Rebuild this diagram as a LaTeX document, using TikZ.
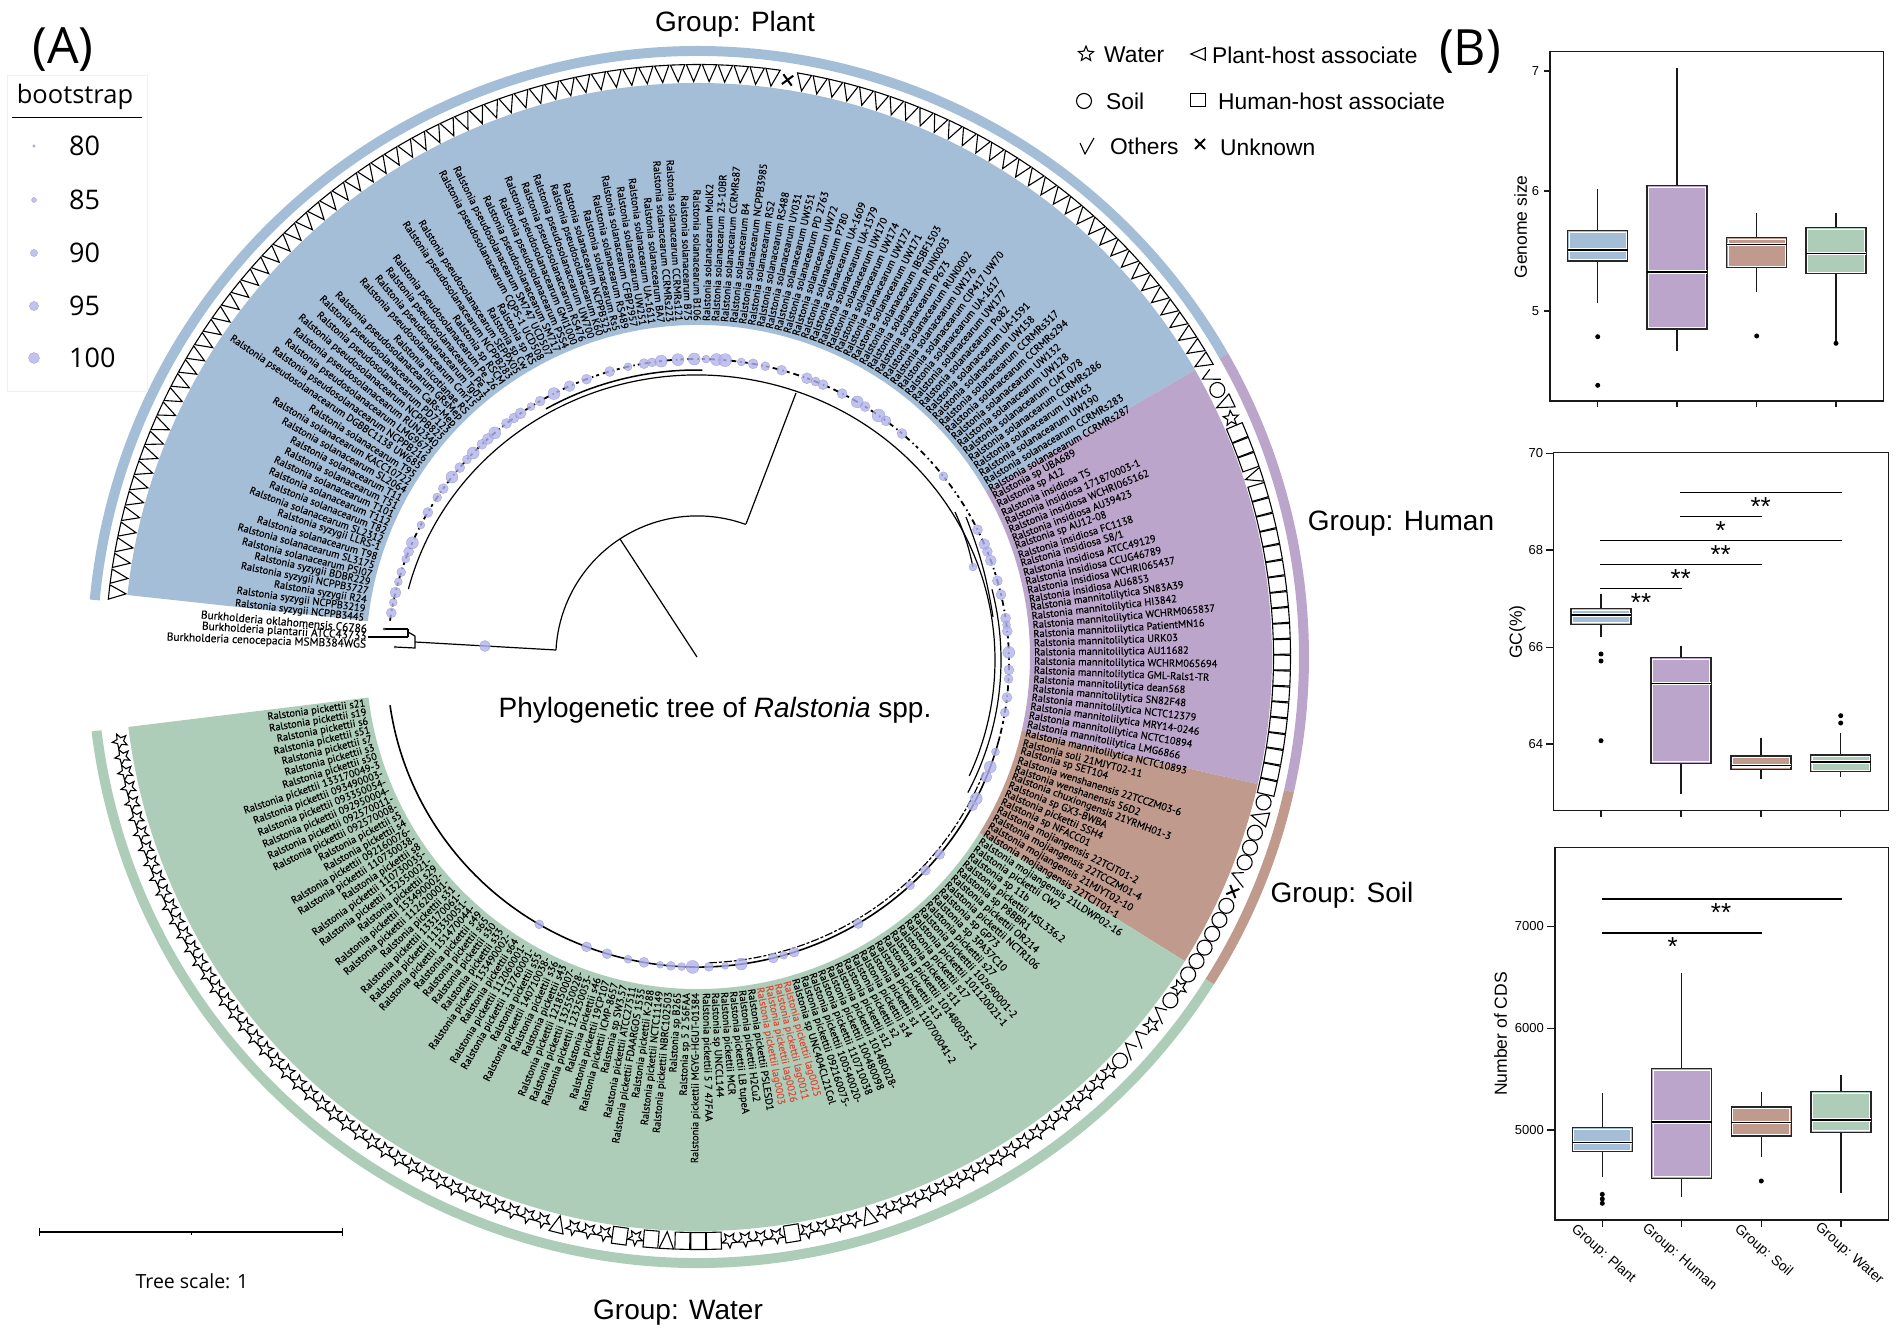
\documentclass[tikz,border=0pt]{standalone}
\usepackage{fontspec}
\newfontfamily\arialfont{Liberation Sans}
\newfontfamily\leaffont[FakeBold=0.25]{PT Sans}
\newfontfamily\legfont{Open Sans}
\usepackage{tikz}
\usetikzlibrary{calc,positioning}
\definecolor{plantcol}{HTML}{A5BED8}
\definecolor{humancol}{HTML}{BBA5CB}
\definecolor{soilcol}{HTML}{C09A8D}
\definecolor{watercol}{HTML}{AECDB9}
\definecolor{leafred}{HTML}{DB4B3C}
\definecolor{dotcol}{HTML}{B3B3EE}
\def\Rps{Ralstonia pseudosolanacearum }
\def\Rsol{Ralstonia solanacearum }
\def\Rsy{Ralstonia syzygii }
\def\Rsp{Ralstonia sp }
\def\Rins{Ralstonia insidiosa }
\def\Rman{Ralstonia mannitolilytica }
\def\Rmo{Ralstonia mojiangensis }
\def\Rpk{Ralstonia pickettii }
\def\Rlag{\color{leafred}Ralstonia pickettii }
\newcommand{\ringsector}[5]{%
  \fill[#1] (#2:#4) arc[start angle=#2,end angle=#3,radius=#4]
    -- (#3:#5) arc[start angle=#3,end angle=#2,radius=#5] -- cycle;}
\newcommand{\boxgroup}[7]{%
  \draw[whisker] (#1,-#2) -- (#1,-#3) (#1,-#5) -- (#1,-#6);
  \draw[boxline,fill=#7] ({#1-30},-#3) rectangle ({#1+30},-#5);
  \draw[white,line width=.7] ({#1-28.5},{-#3-1.6}) rectangle ({#1+28.5},{-#5+1.6});
  \draw[white,line width=3.4] ({#1-29.5},-#4) -- ({#1+29.5},-#4);
  \draw[black,line width=1.5] ({#1-30},-#4) -- ({#1+30},-#4);}
\tikzset{
  x=1pt,y=1pt,
  leaf/.style={font=\leaffont\fontsize{10.4}{10.4}\selectfont,inner sep=0pt},
  burk/.style={font=\leaffont\fontsize{11.4}{11.4}\selectfont,inner sep=0pt,anchor=east},
  grouplabel/.style={font=\arialfont\fontsize{28}{28}\selectfont,inner sep=0pt},
  legtext/.style={font=\arialfont\fontsize{22.8}{23}\selectfont,inner sep=0pt,anchor=west},
  boottext/.style={font=\legfont\fontsize{27}{27}\selectfont,inner sep=0pt,anchor=west},
  paneltag/.style={font=\legfont\fontsize{50}{50}\selectfont,inner sep=0pt},
  ticklabel/.style={font=\arialfont\fontsize{13}{13}\selectfont,inner sep=0pt,anchor=east},
  axistitle/.style={font=\arialfont\fontsize{17.5}{17.5}\selectfont,inner sep=0pt,rotate=90},
  grouptick/.style={font=\arialfont\fontsize{14}{14}\selectfont,inner sep=0pt,rotate=-41},
  sigstar/.style={font=\arialfont\fontsize{26}{26}\selectfont,inner sep=0pt},
  symline/.style={line width=1.1,black},
  treeline/.style={line width=1.2,black},
  whisker/.style={line width=1.2,black!90},
  boxline/.style={line width=1.2,black!85},
  axisline/.style={line width=1.5,black!90},
  sigbar/.style={line width=1.5,black},
  bootdot/.style={fill=dotcol,draw=dotcol!80!black,line width=.3,opacity=.8},
  pics/symT/.style={code={\draw[symline] (8.5,-7.2) -- (8.5,7.2) -- (-8.5,0) -- cycle;}},
  pics/symS/.style={code={\draw[symline] (-8.5,-7.4) rectangle (8.5,7.4);}},
  pics/symC/.style={code={\draw[symline] (0,0) circle (7.5);}},
  pics/symA/.style={code={\draw[symline] (0:7.9) -- (36:3.5) -- (72:7.9) -- (108:3.5) -- (144:7.9)
      -- (180:3.5) -- (216:7.9) -- (252:3.5) -- (288:7.9) -- (324:3.5) -- cycle;}},
  pics/symK/.style={code={\draw[symline] (3,6) -- (-8,1) -- (8,-8);}},
  pics/symX/.style={code={\draw[line width=2,black] (-5,-5) -- (5,5) (-5,5) -- (5,-5);}},
}
\begin{document}
\begin{tikzpicture}
  \useasboundingbox (0,0) rectangle (1901,-1340);
  \begin{scope}[shift={(698,-657)}]
    % sectors and outer ring
    \ringsector{plantcol}{173.8}{30}{574}{332}
    \ringsector{humancol}{30}{-12.8}{574}{332}
    \ringsector{soilcol}{-12.8}{-32}{574}{332}
    \ringsector{watercol}{-32}{-173}{574}{332}
    \ringsector{plantcol}{174.6}{29.8}{611}{601}
    \ringsector{humancol}{29.8}{-12.8}{611}{601}
    \ringsector{soilcol}{-12.8}{-32.4}{611}{601}
    \ringsector{watercol}{-32.4}{-173}{611}{601}
    % symbols
    \foreach \from/\to/\sym in {0/59/T,60/60/X,61/93/T,94/94/K,95/95/C,96/96/T,97/97/A,98/100/S,
        101/101/T,102/121/S,122/122/C,123/123/T,124/126/C,127/127/K,128/128/X,129/134/C,
        135/135/A,136/136/C,137/137/K,138/138/A,139/140/K,141/141/C,142/159/A,160/160/T,
        161/164/A,165/165/S,166/169/A,170/172/S,173/173/T,174/174/S,175/175/A,176/176/S,
        177/179/A,180/180/T,181/224/A}{
      \foreach \n in {\from,...,\to}{
        \pgfmathsetmacro\a{173.7-1.542*\n}
        \pic[rotate=\a] at (\a:584) {sym\sym};
      }
    }
    % leaf labels
    \foreach \leaftxt [count=\n from 0] in {
      \Rsy NCPPB3445,\Rsy NCPPB3219,\Rsy R24,\Rsy NCPPB3727,\Rsy BDBR229,\Rsol PSI07,\Rsol SL3175,
      \Rsol T98,\Rsy LLRS-1,\Rsol SL2312,\Rsol T82,\Rsol T112,\Rsol T101,\Rsol T51,\Rsol T11,
      \Rsol SL2064,\Rsol KACC10722,\Rsol T95,\Rps DGBBC1138 UW685,\Rps NCPPB216,\Rps LMG9673,
      \Rps RUN2340,\Rps NCPPB825,\Rps PD7123,\Rps CaRs-Mep,\Rps GRsMep,Ralstonia nicotianae RS,
      \Rps Cmr15,\Rps Tg03,\Rps Pe\_1,\Rps Pe\_26,\Rsp RSCM,\Rps NCPPB283,\Rps SEPPX05,\Rsp Cw,\Rsp RS,
      \Rps CQPS-1 UCD508,\Rps SM747 UCD507,\Rps SM717,\Rps PSS4,\Rps GMI1000,\Rps RS476,\Rps UW700,
      \Rps K60,\Rsol NCPPB325,\Rsol Rs5,\Rsol RS489,\Rsol CFBP2957,\Rsol UW251,\Rsol UA-1611,
      \Rsol BA7,\Rsol CCRMRs223,\Rsol CCRMRs121,\Rsol B75,\Rsol B106,\Rsol MolK2,\Rsol 23-10BR,
      \Rsol CCRMRs87,\Rsol B4,\Rsol NCPPB3985,\Rsol RS2,\Rsol RS488,\Rsol UY031,\Rsol UW551,
      \Rsol PD 2763,\Rsol UW72,\Rsol P780,\Rsol UA-1609,\Rsol UA-1579,\Rsol UW170,\Rsol UW174,
      \Rsol UW172,\Rsol UW171,\Rsol IBSBF1503,\Rsol RUN0003,\Rsol P673,\Rsol RUN0002,\Rsol UW176,
      \Rsol CIP417 UW70,\Rsol UA-1617,\Rsol UW177,\Rsol Po82,\Rsol UA-1591,\Rsol UW158,
      \Rsol CCRMRs317,\Rsol CCRMRs294,\Rsol UW132,\Rsol UW128,\Rsol CIAT 078,\Rsol CCRMRs286,
      \Rsol UW163,\Rsol UW190,\Rsol CCRMRs283,\Rsol CCRMRs287,\Rsp UBA689,
      \Rsp A12,\Rins TS,\Rins 171870003-1,\Rins WCHRI065162,\Rins AU39423,\Rsp AU12-08,\Rins FC1138,
      \Rins S8/1,\Rins ATCC49129,\Rins CCUG46789,\Rins WCHRI065437,\Rins AU6853,\Rman SN83A39,
      \Rman HI3842,\Rman WCHRM065837,\Rman PatientMN16,\Rman URK03,\Rman AU11682,\Rman WCHRM065694,
      \Rman GML-Rals1-TR,\Rman dean568,\Rman SN82F48,\Rman NCTC12379,\Rman MRY14-0246,
      \Rman NCTC10894,\Rman LMG6866,\Rman NCTC10893,
      Ralstonia soli 21MJYT02-11,\Rsp SET104,Ralstonia wenshanensis 22TCCZM03-6,
      Ralstonia wenshanensis 56D2,Ralstonia chuxiongensis 21YRMH01-3,\Rsp GX3-BWBA,\Rpk SSH4,
      \Rsp NFACC01,\Rmo 22TCJT01-2,\Rmo 22TCCZM01-4,\Rmo 21MJYT02-10,\Rmo 22TCJT01-1,\Rmo 21LDWP02-16,
      \Rpk CW2,\Rsp 11b,\Rpk MSL336.2,\Rsp P8BBR1,\Rpk OR214,\Rpk NCTR106,\Rsp GP73,\Rsp 3PA37C10,
      \Rpk s27,\Rpk 102690001-2,\Rpk 101120021-1,\Rpk s17,\Rpk s11,\Rpk 101480035-1,\Rpk s13,
      \Rpk 110700041-2,\Rpk s1,\Rpk s14,\Rpk s2,\Rpk s12,\Rpk 101480028-,\Rpk 100480098,
      \Rpk 110710038,\Rpk 100540020-,\Rpk 092160075-,\Rsp UNC404CL21Col,\Rlag lag0025,\Rlag lag0011,
      \Rlag lag0026,\Rlag lag0003,\Rpk PSLESD1,\Rpk H2Cu2,\Rpk LB tupeA,\Rpk MCR,\Rsp UNCCL144,
      \Rpk 5 7 47FAA,\Rpk MGYG-HGUT-01384,\Rsp 5 2 56FAA,\Rsp B265,\Rpk NBRC102503,\Rpk NCTC11149,
      \Rpk K-288,\Rpk FDAARGOS 1535,\Rpk ATCC27511,\Rsp SW3.57,\Rpk ICMP-8657,\Rpk 19CP107,\Rpk s46,
      \Rpk 123250053-,\Rpk 132550028-,\Rpk 121850007-,\Rpk s43,\Rpk s36,\Rpk 140710038-,\Rpk s55,
      \Rpk 112760001-,\Rpk 112060001-,\Rpk s64,\Rpk 153490002-,\Rpk s33,\Rpk s30,\Rpk s65,\Rpk s49,
      \Rpk 151470044-,\Rpk 113330051-,\Rpk 133170061-,\Rpk s31,\Rpk 112620001-,\Rpk 153490002-,
      \Rpk s29,\Rpk 132550021-,\Rpk 110730035-,\Rpk s8,\Rpk 110730038-,\Rpk 092160076-,\Rpk s4,
      \Rpk s5,\Rpk 092570008-,\Rpk 092570011-,\Rpk 092950004-,\Rpk 093350054-,\Rpk 093490003-,
      \Rpk 133170049-3,\Rpk s50,\Rpk s3,\Rpk s7,\Rpk s51,\Rpk s6,\Rpk s19,\Rpk s21}{
      \pgfmathsetmacro\a{173.4-1.542*\n}
      \pgfmathsetmacro\c{cos(\a)}
      \ifdim\c pt<0pt
        \node[leaf,anchor=east,rotate=\a+180] (leaf\n) at (\a:336) {\leaftxt};
      \else
        \node[leaf,anchor=west,rotate=\a] (leaf\n) at (\a:336) {\leaftxt};
      \fi
    }
    \node[burk,rotate=-4.9] (burkA) at (175.1:332) {Burkholderia oklahomensis C6786};
    \node[burk,rotate=-3.5] (burkB) at (176.5:332) {Burkholderia plantarii ATCC43733};
    \node[burk,rotate=-2.1] (burkC) at (177.9:332) {Burkholderia cenocepacia MSMB384WGS};
    % tree
    \coordinate (root) at (-1,0);
    \coordinate (nodeA) at (-78,118);
    \coordinate (nodeB) at (-142,7);
    \coordinate (nodeC) at (48,133);
    \coordinate (nodeD) at (98,264);
    \coordinate (nodeE) at (-283,15);
    \coordinate (burkF) at (-283,21);
    \coordinate (burkG) at (-283,9);
    \coordinate (burkH) at (-303,10);
    \coordinate (burkI) at (-290,25);
    \coordinate (burkJ) at (-290,20);
    \coordinate (burkK) at (-290,28);
    \coordinate (burkL) at (-314,28);
    \coordinate (burkM) at (-330,20);
    \draw[treeline] (root) -- (nodeA);
    \draw[treeline] (nodeB) arc[start angle=177,end angle=70,radius=141.5];
    \draw[treeline] (nodeC) -- (nodeD);
    \draw[treeline] (nodeB) -- (nodeE);
    \draw[treeline] (burkF) -- (burkG) -- (burkH);
    \draw[treeline] (burkF) -- (burkI);
    \draw[treeline] (burkK) -- (burkJ);
    \draw[treeline] (burkK) -- (burkL);
    \draw[treeline] (burkJ) -- (burkM);
    \fill[black!70] (burkH) circle (1.5) (burkL) circle (1.5);
    \draw[treeline] ([shift={(-1,-3)}]165.6:298 and 285) arc[start angle=165.6,end angle=-24,x radius=298,y radius=285];
    \draw[treeline,line width=1.5] ([shift={(-1,-3)}]120:302 and 290) arc[start angle=120,end angle=89,x radius=302,y radius=290];
    \draw[treeline] ([shift={(-1,-3)}]14:304 and 292) arc[start angle=14,end angle=-27,x radius=304,y radius=292];
    \draw[line width=1.8,black,dash pattern=on 6 off 4 on 1.5 off 3 on 3 off 4] ([shift={(0,-6)}]172:311 and 304) arc[start angle=172,end angle=-14,x radius=311,y radius=304];
    \draw[line width=1.6,black] ([shift={(0,-6)}]-14:311 and 304) arc[start angle=-14,end angle=-172,x radius=311,y radius=304];
    \draw[line width=1.2,black,dash pattern=on 8 off 2 on 3 off 2] ([shift={(0,-2)}]-22:308 and 304) arc[start angle=-22,end angle=-88,x radius=308,y radius=304];
    \foreach \t/\r in {170.5/5,168.5/4,166.6/5.5,164.5/4,162.6/4.5,160/4,158.5/5,156.7/6,153/4,150.3/5,147/4.5,
        145/5,142.3/6,140/5,138/4.5,136.3/6,134/5,132.5/5.5,130.8/6,128/5,126.3/5,124.8/5.5,122.5/4,120.5/5,
        117.6/6,114.4/5.5,111/5,106.5/5,103/4,100/5,98.5/4.5,96.8/6,93.7/6,90.7/6,88.5/4,86.6/6,85/6.5,82/4,
        79.8/5,77.5/4.5,74.4/5,69.5/5.5,67.8/4.5,66.3/5,62.4/5,59.2/6,57.5/5,54.5/6.5,52.8/5,49/5,37.9/4.5,
        26/5,23/5.5,21.5/5,19.7/5.5,15.7/5,13/5,8.5/5,7.2/4,6/5,2/6,-1.3/5,-3/4.5,-6.5/5,-9.4/4.5,-17/4,
        -20/6,-22/5.5,-26.5/6,-28/5,-39/5,-43/5,-47/4.5,-59/5,-72/5,-74/4,-76/5,-82/6,-85/3.5,-88/4.5,-91/6.5,
        -93/4,-95/4.5,-97/3.5,-100/5,-103/4,-107/5,-111/5,-120.7/4.5}{
      \fill[bootdot] ([shift={(0,-6)}]\t:311 and 304) circle (\r);
    }
    \fill[bootdot] (-213,11) circle (5.5);
    \coordinate (cladeA) at (257,145);
    \coordinate (cladeB) at (275,90);
    \coordinate (cladeC) at (268,140);
    \coordinate (cladeD) at (295,40);
    \draw[treeline] (cladeA) to[bend left=6] (cladeB);
    \draw[treeline] (cladeC) to[bend left=6] (cladeD);
    \fill[bootdot] (cladeB) circle (4);
  \end{scope}
  % group names
  \node[grouplabel] (plantname) at (735,-24) {Group: Plant};
  \node[grouplabel] (humanname) at (1401,-524) {Group: Human};
  \node[grouplabel] (soilname) at (1342,-895) {Group: Soil};
  \node[grouplabel] (watername) at (678,-1313) {Group: Water};
  \node[grouplabel] (treename) at (715,-710) {Phylogenetic tree of \textit{Ralstonia} spp.};
  \node[paneltag] (tagA) at (63,-50) {(A)};
  \node[paneltag] (tagB) at (1470,-52) {(B)};
  % bootstrap legend
  \draw[black!6] (7.5,-75) rectangle (147,-391);
  \node[font=\legfont\fontsize{25.5}{25.5}\selectfont,inner sep=0pt] (boottitle) at (75,-97) {bootstrap};
  \draw[line width=1,black] (12,-118) -- (142,-118);
  \foreach \val/\ypos/\r in {80/146/1.4,85/200/2.5,90/253/3.6,95/306/4.6,100/358/5.5}{
    \fill[bootdot] (34,-\ypos) circle (\r);
    \node[boottext] (boot\val) at (69,-\ypos) {\val};
  }
  % symbol legend
  \pic[rotate=90] at (1086,-54) {symA};
  \node[legtext] (legwater) at (1104,-55) {Water};
  \pic[scale=.85] at (1198,-54) {symT};
  \node[legtext] (legplant) at (1212,-55) {Plant-host associate};
  \pic at (1084,-101) {symC};
  \node[legtext] (legsoil) at (1106,-101) {Soil};
  \pic[scale=.85] at (1198,-100) {symS};
  \node[legtext] (leghuman) at (1218,-101) {Human-host associate};
  \pic[rotate=90] at (1086,-146) {symK};
  \node[legtext] (legothers) at (1110,-146) {Others};
  \pic at (1200,-144) {symX};
  \node[legtext] (legunknown) at (1220,-147) {Unknown};
  % tree scale
  \coordinate (scaleL) at (39,-1232);
  \coordinate (scaleR) at (342,-1232);
  \draw[line width=1.3,black] (scaleL) -- (scaleR);
  \draw[line width=1,black] ($(scaleL)+(0,4)$) -- ($(scaleL)+(0,-4)$) ($(scaleR)+(0,4)$) -- ($(scaleR)+(0,-4)$);
  \draw[line width=.8,black] (191,-1232) -- (191,-1235);
  \node[font=\legfont\fontsize{19.5}{19.5}\selectfont,inner sep=0pt] (scaletext) at (192,-1281) {Tree scale: 1};
  % panel B top
  \draw[axisline] (1550,-51.7) rectangle (1883.3,-401);
  \foreach \val/\ypos in {7/71,6/191,5/311}{
    \draw[axisline] (1544,-\ypos) -- (1550,-\ypos);
    \node[ticklabel] (sizetick\val) at (1539.3,-\ypos) {\val};
  }
  \foreach \xpos in {1597.7,1677,1756.7,1836}{\draw[axisline] (\xpos,-401) -- (\xpos,-407);}
  \node[axistitle] (sizetitle) at (1520.7,-227) {Genome size};
  \boxgroup{1597.7}{189}{230.7}{250}{261}{302.7}{plantcol}
  \boxgroup{1677}{67.7}{185.3}{272}{329}{350.7}{humancol}
  \boxgroup{1756.7}{213.3}{237.3}{244.3}{267.7}{292}{soilcol}
  \boxgroup{1836}{212.7}{227.3}{253.7}{273.7}{343.3}{watercol}
  \fill (1597.7,-336.7) circle (2.5) (1597.7,-385.3) circle (2.5) (1756.7,-336) circle (2.5) (1836,-343.3) circle (2.5);
  % panel B middle
  \draw[axisline] (1553.3,-452.7) rectangle (1888.3,-810.7);
  \foreach \val/\ypos in {70/453.3,68/550,66/647.3,64/744}{
    \draw[axisline] (1546,-\ypos) -- (1553.3,-\ypos);
    \node[ticklabel] (gctick\val) at (1543.3,-\ypos) {\val};
  }
  \foreach \xpos in {1601,1681,1761,1840.7}{\draw[axisline] (\xpos,-810.7) -- (\xpos,-817);}
  \node[axistitle] (gctitle) at (1517.3,-632) {GC(\%)};
  \boxgroup{1601}{594}{608.3}{615}{624.3}{636.7}{plantcol}
  \boxgroup{1681}{645.7}{657.7}{683.7}{763.3}{794}{humancol}
  \boxgroup{1761}{737.7}{756}{765.7}{769.3}{778.7}{soilcol}
  \boxgroup{1840.7}{733.3}{755}{762}{771.7}{777.3}{watercol}
  \fill (1601,-654) circle (2.5) (1601,-661) circle (2.5) (1601,-740.7) circle (2.5)
        (1840.7,-715.7) circle (2.5) (1840.7,-723) circle (2.5);
  \foreach \xa/\xb/\ypos/\xs/\stars in {1680/1841.7/492.3/1760.7/**,1680/1761.7/516.3/1720.7/*,
      1600/1841.7/540.3/1720.7/**,1600/1761.7/564.7/1680.7/**,1600/1681.7/588.7/1641/**}{
    \draw[sigbar] (\xa,-\ypos) -- (\xb,-\ypos);
    \node[sigstar] (gcstar\ypos) at (\xs,{-\ypos-14}) {\stars};
  }
  % panel B bottom
  \draw[axisline] (1555,-847.3) rectangle (1888.3,-1220);
  \foreach \val/\ypos in {7000/926.3,6000/1028.3,5000/1130}{
    \draw[axisline] (1546.7,-\ypos) -- (1555,-\ypos);
    \node[ticklabel] (cdstick\val) at (1544,-\ypos) {\val};
  }
  \foreach \xpos in {1602.3,1681.7,1761.3,1841}{\draw[axisline] (\xpos,-1220) -- (\xpos,-1227);}
  \node[axistitle] (cdstitle) at (1500.7,-1034) {Number of CDS};
  \boxgroup{1602.3}{1092.7}{1127.3}{1142.3}{1151.7}{1176.7}{plantcol}
  \boxgroup{1681.7}{973.3}{1068.3}{1122}{1178.3}{1196.7}{humancol}
  \boxgroup{1761.3}{1091.7}{1107}{1122.3}{1136}{1156.7}{soilcol}
  \boxgroup{1841}{1075}{1091.3}{1120}{1132.3}{1193.3}{watercol}
  \fill (1602.3,-1194.3) circle (2.5) (1602.3,-1199) circle (2.5) (1602.3,-1203.3) circle (2.5) (1761.3,-1181) circle (2.5);
  \foreach \xa/\xb/\ypos/\xs/\stars in {1601.7/1841.7/899/1721/**,1601.7/1762.3/933/1672.7/*}{
    \draw[sigbar] (\xa,-\ypos) -- (\xb,-\ypos);
    \node[sigstar] (cdsstar\ypos) at (\xs,{-\ypos-14}) {\stars};
  }
  \node[grouptick] (tickplant) at (1603.3,-1254) {Group: Plant};
  \node[grouptick] (tickhuman) at (1679.3,-1257.3) {Group: Human};
  \node[grouptick] (ticksoil) at (1763.3,-1250.7) {Group: Soil};
  \node[grouptick] (tickwater) at (1849,-1254) {Group: Water};
\end{tikzpicture}
\end{document}
